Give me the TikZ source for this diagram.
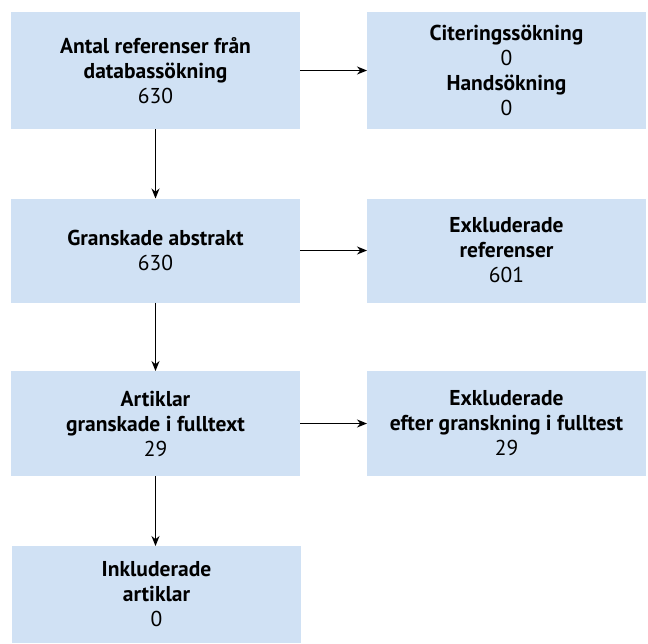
\documentclass[tikz,border=0pt]{standalone}
\usepackage{fontspec}
\setmainfont{PT Sans}
\usetikzlibrary{arrows.meta}
\definecolor{boxblue}{RGB}{208,225,244}
\tikzset{
  box/.style={fill=boxblue, draw=none, inner sep=0pt, outer sep=0pt,
    minimum width=289pt, align=center, font=\fontsize{21.5}{25}\selectfont},
  arr/.style={-{Stealth[length=10pt,width=8pt]}, line width=1.2pt, black}
}
\begin{document}
\begin{tikzpicture}[x=1pt,y=-1pt]
\useasboundingbox (0,0) rectangle (648,643);
\node[box, minimum height=117pt] (A) at (155.5,70.5) {\textbf{Antal referenser från}\\\textbf{databassökning}\\630};
\node[box, minimum height=117pt, minimum width=279pt] (B) at (506.5,70.5) {\textbf{Citeringssökning}\\0\\\textbf{Handsökning}\\0};
\node[box, minimum height=104pt] (C) at (155.5,250.5) {\textbf{Granskade abstrakt}\\630};
\node[box, minimum height=104pt, minimum width=279pt] (D) at (506.5,250.5) {\textbf{Exkluderade}\\\textbf{referenser}\\601};
\node[box, minimum height=105pt] (E) at (155.5,423.5) {\textbf{Artiklar}\\\textbf{granskade i fulltext}\\29};
\node[box, minimum height=105pt, minimum width=279pt] (F) at (506.5,423.5) {\textbf{Exkluderade}\\\textbf{efter granskning i fulltest}\\29};
\node[box, minimum height=97pt] (G) at (156.5,594.5) {\textbf{Inkluderade}\\\textbf{artiklar}\\0};
\draw[arr] (A) -- (B);
\draw[arr] (C) -- (D);
\draw[arr] (E) -- (F);
\draw[arr] (A) -- (C);
\draw[arr] (C) -- (E);
\draw[arr] (E.south) -- (E.south |- G.north);
\end{tikzpicture}
\end{document}
